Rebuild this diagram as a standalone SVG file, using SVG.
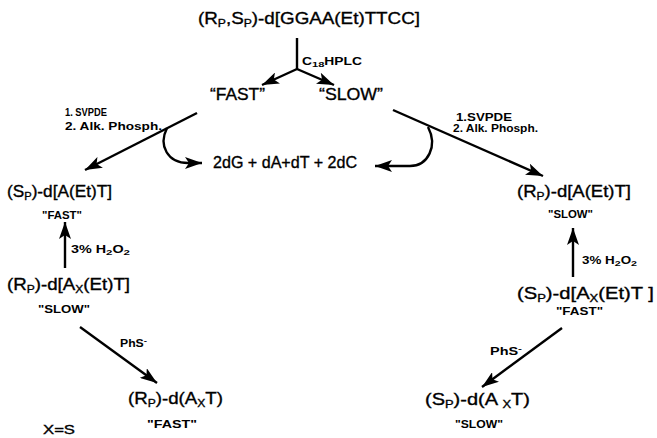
<svg xmlns="http://www.w3.org/2000/svg" width="657" height="438" viewBox="0 0 657 438">
<defs>
<style>
.m{font-family:"Liberation Sans",Arial,sans-serif;font-size:17px;fill:#000;stroke:#000;stroke-width:0.35}
.s{font-family:"Liberation Sans",Arial,sans-serif;font-size:10px;font-weight:bold;fill:#000}
.sub{font-size:11px}
.ssub{font-size:8px}
.ln{fill:none;stroke:#000;stroke-width:2.4}
</style>
<marker id="ah" markerUnits="userSpaceOnUse" markerWidth="18" markerHeight="12" viewBox="0 0 18 12" refX="17" refY="6" orient="auto">
<path d="M0,0 L17,6 L0,12 L4,6 z" fill="#000"/>
</marker>
</defs>
<rect width="657" height="438" fill="#fff"/>
<g id="connectors">
<path class="ln" d="M297,38 L297,69"/>
<path class="ln" d="M297,69 L262,85" marker-end="url(#ah)"/>
<path class="ln" d="M297,69 L334,85" marker-end="url(#ah)"/>
<path class="ln" d="M197,113 L85,170" marker-end="url(#ah)"/>
<path class="ln" d="M393,110 L543,176" marker-end="url(#ah)"/>
<path class="ln" d="M167,128 C158,146 168,163 188,163 L202,163" marker-end="url(#ah)"/>
<path class="ln" d="M428,127 C438,146 428,166 410,166 L375,166" marker-end="url(#ah)"/>
<path class="ln" d="M65,268 L65,222" marker-end="url(#ah)"/>
<path class="ln" d="M80,327 L157,383" marker-end="url(#ah)"/>
<path class="ln" d="M573,277 L573,228" marker-end="url(#ah)"/>
<path class="ln" d="M562,328 L482,387" marker-end="url(#ah)"/>
</g>
<g id="start"><text class="m" x="198" y="24" textLength="222" lengthAdjust="spacingAndGlyphs">(R<tspan class="sub" dy="3">P</tspan><tspan dy="-3">,S</tspan><tspan class="sub" dy="3">P</tspan><tspan dy="-3">)-d[GGAA(Et)TTCC]</tspan></text></g>
<g id="hplc"><text class="s" x="302" y="65" textLength="60" lengthAdjust="spacingAndGlyphs">C<tspan class="ssub" dy="2">18</tspan><tspan dy="-2">HPLC</tspan></text></g>
<g id="fast"><text class="m" x="210" y="100" textLength="55" lengthAdjust="spacingAndGlyphs">“FAST”</text></g>
<g id="slow"><text class="m" x="319" y="100" textLength="64" lengthAdjust="spacingAndGlyphs">“SLOW”</text></g>
<g id="enzL"><text class="s" x="65" y="116" textLength="42" lengthAdjust="spacingAndGlyphs">1. SVPDE</text><text class="s" x="65" y="130" textLength="97" lengthAdjust="spacingAndGlyphs">2. Alk. Phosph.</text></g>
<g id="enzR"><text class="s" x="456" y="121" textLength="56" lengthAdjust="spacingAndGlyphs">1.SVPDE</text><text class="s" x="453" y="132" textLength="85" lengthAdjust="spacingAndGlyphs">2. Alk. Phosph.</text></g>
<g id="nucleosides"><text class="m" x="213" y="168" textLength="144" lengthAdjust="spacingAndGlyphs">2dG + dA+dT + 2dC</text></g>
<g id="spAEtT"><text class="m" x="7" y="197" textLength="105" lengthAdjust="spacingAndGlyphs">(S<tspan class="sub" dy="3">P</tspan><tspan dy="-3">)-d[A(Et)T]</tspan></text><text class="s" x="42" y="219" textLength="40" lengthAdjust="spacingAndGlyphs">"FAST"</text></g>
<g id="h2o2L"><text class="s" x="71" y="253" textLength="59" lengthAdjust="spacingAndGlyphs">3% H<tspan class="ssub" dy="2">2</tspan><tspan dy="-2">O</tspan><tspan class="ssub" dy="2">2</tspan></text></g>
<g id="rpAxEtT"><text class="m" x="7" y="290" textLength="123" lengthAdjust="spacingAndGlyphs">(R<tspan class="sub" dy="3">P</tspan><tspan dy="-3">)-d[A</tspan><tspan class="sub" dy="3">X</tspan><tspan dy="-3">(Et)T]</tspan></text><text class="s" x="38" y="313" textLength="52" lengthAdjust="spacingAndGlyphs">"SLOW"</text></g>
<g id="phsL"><text class="s" x="120" y="347" textLength="27" lengthAdjust="spacingAndGlyphs">PhS<tspan dy="-4" class="ssub">-</tspan></text></g>
<g id="rpAxT"><text class="m" x="128" y="404" textLength="95" lengthAdjust="spacingAndGlyphs">(R<tspan class="sub" dy="3">P</tspan><tspan dy="-3">)-d(A</tspan><tspan class="sub" dy="3">X</tspan><tspan dy="-3">T)</tspan></text><text class="s" x="147" y="428" textLength="50" lengthAdjust="spacingAndGlyphs">"FAST"</text></g>
<g id="xs"><text class="m" x="43" y="434" textLength="32" lengthAdjust="spacingAndGlyphs" style="font-size:13px">X=S</text></g>
<g id="rpAEtT"><text class="m" x="517" y="197" textLength="114" lengthAdjust="spacingAndGlyphs">(R<tspan class="sub" dy="3">P</tspan><tspan dy="-3">)-d[A(Et)T]</tspan></text><text class="s" x="548" y="218" textLength="45" lengthAdjust="spacingAndGlyphs">"SLOW"</text></g>
<g id="h2o2R"><text class="s" x="582" y="264" textLength="55" lengthAdjust="spacingAndGlyphs">3% H<tspan class="ssub" dy="2">2</tspan><tspan dy="-2">O</tspan><tspan class="ssub" dy="2">2</tspan></text></g>
<g id="spAxEtT"><text class="m" x="517" y="299" textLength="137" lengthAdjust="spacingAndGlyphs">(S<tspan class="sub" dy="3">P</tspan><tspan dy="-3">)-d[A</tspan><tspan class="sub" dy="3">X</tspan><tspan dy="-3">(Et)T ]</tspan></text><text class="s" x="556" y="315" textLength="47" lengthAdjust="spacingAndGlyphs">"FAST"</text></g>
<g id="phsR"><text class="s" x="490" y="355" textLength="32" lengthAdjust="spacingAndGlyphs">PhS<tspan dy="-4" class="ssub">-</tspan></text></g>
<g id="spAxT"><text class="m" x="425" y="405" textLength="105" lengthAdjust="spacingAndGlyphs">(S<tspan class="sub" dy="3">P</tspan><tspan dy="-3">)-d(A </tspan><tspan class="sub" dy="3">X</tspan><tspan dy="-3">T)</tspan></text><text class="s" x="455" y="428" textLength="48" lengthAdjust="spacingAndGlyphs">"SLOW"</text></g>
</svg>
